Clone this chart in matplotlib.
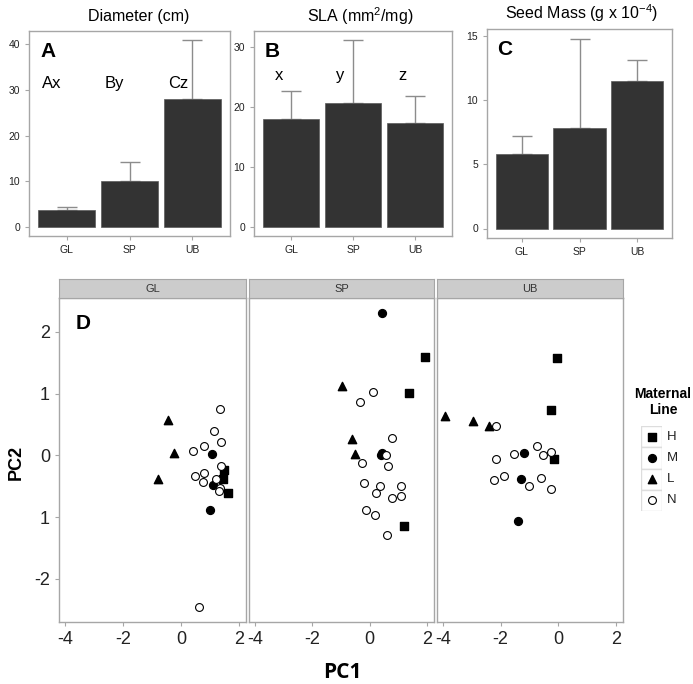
import numpy as np
import matplotlib as mpl
mpl.use("agg")
import matplotlib.pyplot as plt
from matplotlib.patches import Rectangle

plt.rcParams['font.family'] = ['Liberation Sans', 'DejaVu Sans']
plt.rcParams['axes.unicode_minus'] = False
plt.rcParams['mathtext.fontset'] = 'custom'
plt.rcParams['mathtext.rm'] = 'Liberation Sans'
plt.rcParams['mathtext.it'] = 'Liberation Sans'
plt.rcParams['mathtext.default'] = 'regular'

W, H = 693, 684

sites = ["GL", "SP", "UB"]

# top bar panels: mean and mean+se
diam_mean = [3.7, 10.1, 28.0]
diam_top = [4.3, 14.3, 40.9]
sla_mean = [18.1, 20.7, 17.4]
sla_top = [22.7, 31.2, 21.9]
seed_mean = [5.8, 7.8, 11.5]
seed_top = [7.2, 14.8, 13.1]

diam_letters = ["Ax", "By", "Cz"]
sla_letters = ["x", "y", "z"]

# PCA scores per site and maternal line
lines = ["H", "M", "L", "N"]
pca = {
    "GL": {
        "H": ([1.49, 1.44, 1.62], [-0.23, -0.39, -0.61]),
        "M": ([1.06, 1.12, 1.00], [0.03, -0.48, -0.89]),
        "L": ([-0.46, -0.23, -0.79], [0.57, 0.04, -0.38]),
        "N": ([1.34, 1.14, 1.38, 0.79, 0.42, 0.50, 0.80, 0.76, 1.39, 1.20, 1.33, 1.31, 0.61],
              [0.75, 0.40, 0.22, 0.15, 0.07, -0.34, -0.28, -0.43, -0.18, -0.38, -0.53, -0.58, -2.46]),
    },
    "SP": {
        "H": ([1.94, 1.36, 1.21], [1.60, 1.01, -1.14]),
        "M": ([0.43, 0.38, 0.43], [2.31, 0.00, 0.04]),
        "L": ([-0.97, -0.62, -0.50], [1.13, 0.27, 0.03]),
        "N": ([0.10, -0.33, 0.78, 0.56, -0.28, 0.64, -0.19, 0.37, 1.08, 0.22, 0.78, 1.08, -0.13, 0.19, 0.60],
              [1.02, 0.87, 0.28, 0.00, -0.12, -0.17, -0.45, -0.50, -0.49, -0.61, -0.69, -0.66, -0.89, -0.97, -1.29]),
    },
    "UB": {
        "H": ([-0.03, -0.24, -0.15], [1.58, 0.73, -0.06]),
        "M": ([-1.18, -1.29, -1.39], [0.04, -0.38, -1.06]),
        "L": ([-3.94, -2.95, -2.41], [0.63, 0.55, 0.48]),
        "N": ([-2.14, -0.74, -1.52, -0.54, -0.27, -2.16, -1.89, -2.22, -0.60, -1.01, -0.25],
              [0.47, 0.15, 0.03, 0.01, 0.06, -0.06, -0.34, -0.40, -0.36, -0.49, -0.54]),
    },
}

mk = {"H": dict(marker="s", c="black", s=28),
      "M": dict(marker="o", c="black", s=32),
      "L": dict(marker="^", c="black", s=36),
      "N": dict(marker="o", facecolors="white", edgecolors="black", s=32, linewidths=0.8)}

FRAME = "#a6a6a6"


def add_ax(fig, x0, y0, x1, y1):
    return fig.add_axes([x0 / W, 1 - y1 / H, (x1 - x0) / W, (y1 - y0) / H])


def style(ax, size):
    for s in ax.spines.values():
        s.set_color(FRAME)
        s.set_linewidth(1.0)
    ax.tick_params(colors=FRAME, labelcolor="#222222", labelsize=size, length=3, width=0.8)


fig = plt.figure(figsize=(W / 100, H / 100), dpi=100)

bars = [
    (29, 31, 230, 236, diam_mean, diam_top, [0, 10, 20, 30, 40], "A", "Diameter (cm)", 139, 16),
    (254, 31, 452, 236, sla_mean, sla_top, [0, 10, 20, 30], "B", "SLA (mm$^{2}$/mg)", 360, 16),
    (487, 29, 672, 238, seed_mean, seed_top, [0, 5, 10, 15], "C", "Seed Mass (g x 10$^{-4}$)", 582, 13),
]
x = np.arange(1, 4)
for (x0, y0, x1, y1, mean, top, ticks, tag, title, tx, ty) in bars:
    ax = add_ax(fig, x0, y0, x1, y1)
    mean = np.array(mean)
    top = np.array(top)
    ax.errorbar(x, mean, yerr=[np.zeros(3), top - mean], fmt="none",
                ecolor="#8c8c8c", elinewidth=1.0, capsize=7, capthick=1.0, zorder=1)
    ax.bar(x, mean, width=0.9, color="#333333", edgecolor="#5a5a5a", linewidth=0.5, zorder=2)
    ax.set_xlim(0.4, 3.6)
    pad = top.max() * 0.05
    ax.set_ylim(-pad, top.max() + pad)
    ax.set_xticks(x)
    ax.set_xticklabels(sites)
    ax.set_yticks(ticks)
    style(ax, 7.5)
    ax.text(0.055, 0.9, tag, transform=ax.transAxes, fontsize=15, fontweight="bold",
            va="center", ha="left")
    fig.text(tx / W, 1 - ty / H, title, fontsize=11.5, ha="center", va="center")
    if tag == "A":
        for i, t in enumerate(diam_letters):
            ax.text(x[i] - 0.39, 31.5, t, fontsize=12, ha="left", va="center")
    if tag == "B":
        for i, t in enumerate(sla_letters):
            ax.text(x[i] - 0.2, 25.3, t, fontsize=12, ha="center", va="center")

# faceted PCA panels
panels = [(59, 246), (249, 434), (437, 623)]
for k, site in enumerate(sites):
    x0, x1 = panels[k]
    ax = add_ax(fig, x0, 298, x1, 622)
    for ln in lines:
        ax.scatter(pca[site][ln][0], pca[site][ln][1], zorder=3, **mk[ln])
    ax.set_xlim(-4.2, 2.24)
    ax.set_ylim(-2.7, 2.55)
    ax.set_xticks([-4, -2, 0, 2])
    ax.set_yticks([-2, -1, 0, 1, 2])
    style(ax, 13)
    if k == 0:
        ax.set_yticklabels(["-2", "1", "0", "1", "2"])
        ax.text(0.09, 0.92, "D", transform=ax.transAxes, fontsize=15, fontweight="bold",
                va="center", ha="left")
    else:
        ax.tick_params(axis="y", left=False, labelleft=False)
    st = add_ax(fig, x0, 279, x1, 298)
    st.set_xticks([])
    st.set_yticks([])
    st.set_facecolor("#cccccc")
    for s in st.spines.values():
        s.set_color(FRAME)
    st.text(0.5, 0.45, site, transform=st.transAxes, ha="center", va="center",
            fontsize=8, color="#333333")

fig.text(342 / W, 1 - 672 / H, "PC1", fontsize=15, fontweight="bold",
         family=["Open Sans", "DejaVu Sans"], ha="center", va="center")
fig.text(16 / W, 1 - 462 / H, "PC2", fontsize=13, fontweight="bold",
         rotation=90, ha="center", va="center")

# legend
fig.text(663 / W, 1 - 402 / H, "Maternal\nLine", fontsize=10, fontweight="bold",
         ha="center", va="center", linespacing=1.15)
lg = add_ax(fig, 641, 426, 662, 511)
lg.set_xlim(0, 1)
lg.set_ylim(len(lines), 0)
for i, ln in enumerate(lines):
    lg.add_patch(Rectangle((0, i), 1, 1, facecolor="white", edgecolor="#dddddd", lw=1))
    lg.scatter([0.5], [i + 0.5], zorder=3, **mk[ln])
    fig.text(667 / W, 1 - (426 + 21.25 * (i + 0.5)) / H, ln, fontsize=9.5,
             ha="left", va="center", color="#222222")
lg.axis("off")

fig.savefig("out.png", dpi=100)
